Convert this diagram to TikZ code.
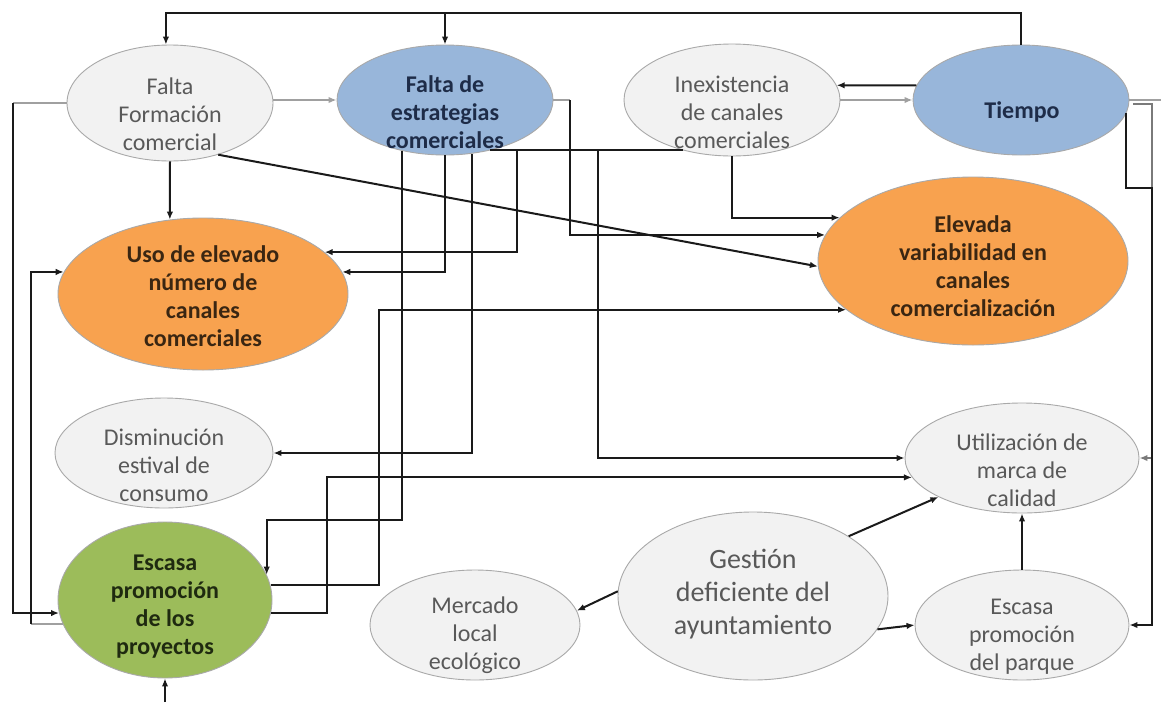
\documentclass[tikz,border=0pt]{standalone}
\usepackage{fontspec}
\setmainfont{Carlito}
\usetikzlibrary{shapes.geometric,arrows.meta}

\definecolor{palefill}{HTML}{F2F2F2}
\definecolor{paletext}{HTML}{595959}
\definecolor{rim}{HTML}{A9A9A9}
\definecolor{bluefill}{HTML}{98B6DA}
\definecolor{bluetext}{HTML}{1E2C48}
\definecolor{orangefill}{HTML}{F8A24F}
\definecolor{orangetext}{HTML}{3A2612}
\definecolor{greenfill}{HTML}{9CBC5A}
\definecolor{greentext}{HTML}{1F2A10}
\definecolor{linecol}{HTML}{1A1A1A}
\definecolor{greyline}{HTML}{A0A0A0}
\definecolor{midline}{HTML}{7A7A7A}

\begin{document}
\begin{tikzpicture}[x=1pt,y=-1pt,
  bub/.style={ellipse, inner sep=0pt, draw=rim, line width=0.9pt},
  pale/.style={bub, fill=palefill},
  blue/.style={bub, fill=bluefill},
  orange/.style={bub, fill=orangefill},
  green/.style={bub, fill=greenfill},
  lbl/.style={align=center, inner sep=0pt, font=\fontsize{24}{28}\selectfont},
  plbl/.style={lbl, text=paletext},
  blbl/.style={lbl, text=bluetext, font=\fontsize{24}{28}\selectfont\bfseries},
  olbl/.style={lbl, text=orangetext, font=\fontsize{24}{28}\selectfont\bfseries},
  glbl/.style={lbl, text=greentext, font=\fontsize{24}{28}\selectfont\bfseries},
  arr/.style={draw=linecol, line width=2pt, -{Latex[length=8pt,width=6.5pt]}},
  gry/.style={draw=greyline, line width=2pt},
  arrg/.style={gry, -{Latex[length=8pt,width=6.5pt]}}
]
\useasboundingbox[fill=white] (0,0) rectangle (1162,702);

% ---- causes and effects (ellipses) ----
\node[pale,   minimum width=206pt, minimum height=116pt] (ffc) at (170,103) {};
\node[blue,   minimum width=216pt, minimum height=110pt] (fec) at (445,100) {};
\node[pale,   minimum width=216pt, minimum height=112pt] (icc) at (732,100) {};
\node[blue,   minimum width=216pt, minimum height=110pt] (tie) at (1021,100) {};
\node[orange, minimum width=290pt, minimum height=152pt] (uen) at (203,294) {};
\node[orange, minimum width=310pt, minimum height=168pt] (evc) at (973,261) {};
\node[pale,   minimum width=218pt, minimum height=110pt] (dec) at (164,453) {};
\node[green,  minimum width=214pt, minimum height=156pt] (epp) at (165,600) {};
\node[pale,   minimum width=234pt, minimum height=110pt] (umc) at (1022,458) {};
\node[pale,   minimum width=270pt, minimum height=168pt] (gda) at (753,596) {};
\node[pale,   minimum width=210pt, minimum height=110pt] (mle) at (475,625) {};
\node[pale,   minimum width=214pt, minimum height=110pt] (epq) at (1022,625) {};

% ---- labels ----
\node[plbl] (ffc-t) at (170,114) {Falta\\Formación\\comercial};
\node[blbl] (fec-t) at (445,112) {Falta de\\estrategias\\comerciales};
\node[plbl] (icc-t) at (732,112) {Inexistencia\\de canales\\comerciales};
\node[blbl] (tie-t) at (1022,112) {Tiempo};
\node[olbl] (uen-t) at (203,296) {Uso de elevado\\número de\\canales\\comerciales};
\node[olbl] (evc-t) at (973,266) {Elevada\\variabilidad en\\canales\\comercialización};
\node[plbl] (dec-t) at (164,465) {Disminución\\estival de\\consumo};
\node[glbl] (epp-t) at (165,607) {Escasa\\promoción\\de los\\proyectos};
\node[plbl] (umc-t) at (1022,470) {Utilización de\\marca de\\calidad};
\node[plbl, font=\fontsize{28}{33}\selectfont] (gda-t) at (753,594) {Gestión\\deficiente del\\ayuntamiento};
\node[plbl] (mle-t) at (475,635) {Mercado\\local\\ecológico};
\node[plbl] (epq-t) at (1022,637) {Escasa\\promoción\\del parque};

% ---- routing helpers ----
\coordinate (topy) at (0,13);
\coordinate (y520) at (0,520);
\coordinate (x517) at (517,200);
\coordinate (x598) at (598,300);
\coordinate (xr)   at (1152,300);
\coordinate (xr2)  at (1152,188);
\coordinate (bot)  at (165,702);

% ---- top feedback from Tiempo ----
\draw[arr] (tie.north) |- (topy -| ffc.94) -- (ffc.94);
\draw[arr] (topy -| fec.north) -- (fec.north);

% ---- from Falta Formación comercial ----
\draw[arrg] (ffc.east |- fec.west) -- (fec.west);
\draw[gry] (ffc.west) -- ++(-54,0) coordinate (l1);
\draw[arr] (l1) |- (epp.187);
\draw[arr] (ffc.south) -- (uen.114);
\draw[arr] (ffc.313) -- (evc.182);

% ---- from Falta de estrategias comerciales ----
\draw[gry] (fec.east) -- ++(17,0) coordinate (l3);
\draw[arr] (l3) |- (evc.170);
\draw[arr] (fec.230) |- (y520 -| epp.14) -- (epp.14);
\draw[arr] (fec.south) |- (uen.9);
\draw[arr] (fec.297) |- (dec.east);
\draw[arr] (fec.312) -| (x598) |- (umc.west);

% ---- from Inexistencia de canales comerciales ----
\draw[arr] (icc.south) |- (evc.162);
\draw[arr] (icc.226) -| (x517) |- (uen.19);
\draw[arrg] (icc.east) -- (tie.west);

% ---- from Tiempo ----
\draw[arr] (tie.172) -- (icc.8);
\draw[gry] (tie.east) -- ++(32,0);
\draw[arr, draw=midline] ([shift={(4,4)}]tie.east) -| (xr) |- (umc.east);
\draw[arr] (tie.353) |- (xr2) |- (epq.east);

% ---- from Escasa promoción de los proyectos ----
\draw[gry] (epp.193) -- ++(-32,0) coordinate (l2);
\draw[arr] (l2) |- (uen.171);
\draw[arr] (epp.8) -- ++(108,0) |- (evc.201);
\draw[arr] (epp.353) -- ++(56,0) |- (umc.190);
\draw[arr] (bot) -- (epp.south);

% ---- from Gestión deficiente del ayuntamiento ----
\draw[arr] (gda.178) -- (mle.8);
\draw[arr] (gda.32) -- (umc.205);
\draw[arr] (gda.345) -- (epq.west);
\draw[arr] (epq.north) -- (umc.south);
\end{tikzpicture}
\end{document}
